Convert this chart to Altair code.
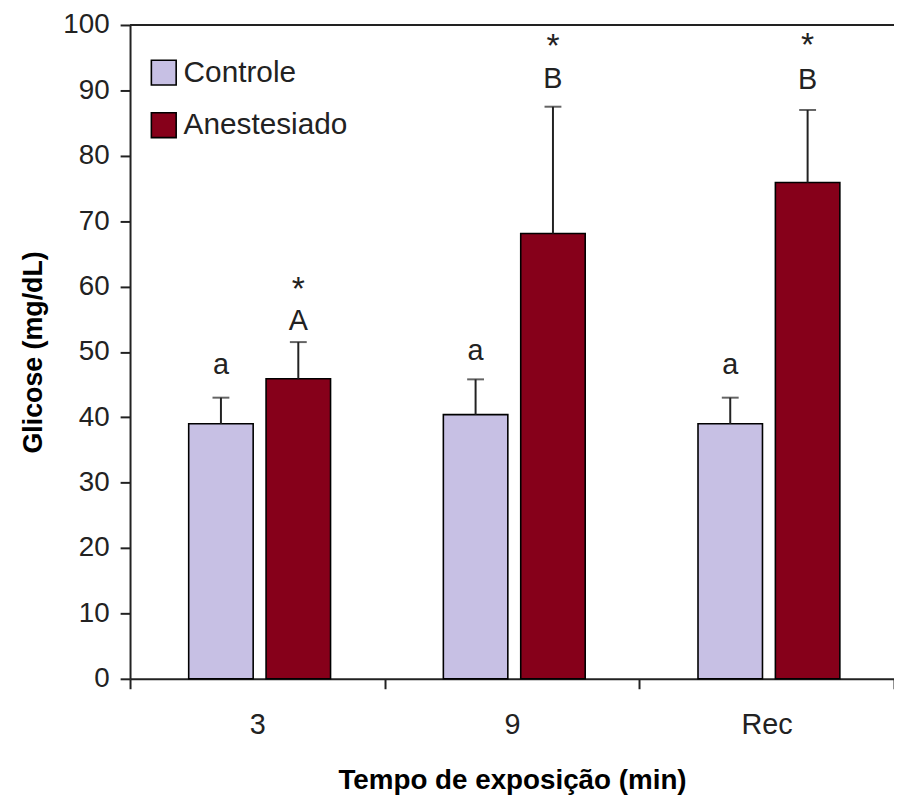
import altair as alt
import pandas as pd

times = ["3", "9", "Rec"]
groups = ["Controle", "Anestesiado"]
colors = ["#C7C0E4", "#86001A"]

controle_mean = [39.0, 40.4, 39.0]
controle_upper = [43.0, 45.8, 43.0]
anest_mean = [45.9, 68.1, 75.9]
anest_upper = [51.5, 87.5, 87.0]

controle_letters = ["a", "a", "a"]
controle_letter_y = [46.6, 48.7, 46.6]
anest_letters = ["A", "B", "B"]
anest_letter_y = [53.4, 90.3, 90.2]
anest_star = ["*", "*", "*"]
anest_star_y = [58.0, 95.1, 95.3]

rows = []
for i, t in enumerate(times):
    rows.append(dict(time=t, group="Controle", mean=controle_mean[i], upper=controle_upper[i],
                     letter=controle_letters[i], letter_y=controle_letter_y[i], star="", star_y=None))
    rows.append(dict(time=t, group="Anestesiado", mean=anest_mean[i], upper=anest_upper[i],
                     letter=anest_letters[i], letter_y=anest_letter_y[i], star=anest_star[i], star_y=anest_star_y[i]))
df = pd.DataFrame(rows)

FONT = "Liberation Sans"
DARK = "#222222"
XTITLE = "Tempo de exposição (min)"
YTITLE = "Glicose (mg/dL)"

xscale = alt.Scale(paddingInner=0, paddingOuter=0)
oscale = alt.Scale(domain=groups, paddingInner=0.1667, paddingOuter=0.729, align=0.52)
yscale = alt.Scale(domain=[0, 100], nice=False, zero=True)

x_axis = alt.Axis(labelAngle=0, tickBand="extent", tickSize=10, tickWidth=2, tickColor=DARK,
                  domainColor=DARK, domainWidth=2, labelFont=FONT, labelFontSize=29,
                  labelColor=DARK, labelPadding=22, titleFont=FONT, titleFontSize=28,
                  titleFontWeight="bold", titleColor="black", titlePadding=28)
y_axis = alt.Axis(values=list(range(0, 101, 10)), tickSize=10, tickWidth=2, tickColor=DARK,
                  domainColor=DARK, domainWidth=2, grid=False, labelFont=FONT, labelFontSize=28,
                  labelColor=DARK, labelPadding=11, titleFont=FONT, titleFontSize=27,
                  titleFontWeight="bold", titleColor="black", titlePadding=16)

base = alt.Chart(df)

xenc = alt.X("time:N", sort=times, scale=xscale, axis=x_axis, title=XTITLE)
xo = alt.XOffset("group:N", sort=groups, scale=oscale)

def yenc(field):
    return alt.Y(field, scale=yscale, axis=y_axis, title=YTITLE)

bars = base.mark_bar(stroke="black", strokeWidth=1.6).encode(
    x=xenc,
    xOffset=xo,
    y=yenc("mean:Q"),
    color=alt.Color("group:N", sort=groups,
                    scale=alt.Scale(domain=groups, range=colors),
                    legend=alt.Legend(title=None, orient="none", legendX=19, legendY=33,
                                      symbolType="square", symbolSize=625,
                                      symbolStrokeColor="black", symbolStrokeWidth=1.6,
                                      symbolOpacity=1, labelLimit=400,
                                      labelFont=FONT, labelFontSize=30, labelColor=DARK,
                                      labelOffset=5, rowPadding=21, padding=0)),
)

err = base.mark_rule(color=DARK, strokeWidth=2).encode(
    x=xenc, xOffset=xo,
    y=yenc("mean:Q"),
    y2="upper:Q",
)

caps = base.mark_tick(color=DARK, size=17, thickness=2).encode(
    x=xenc, xOffset=xo,
    y=yenc("upper:Q"),
)

letters = base.mark_text(font=FONT, fontSize=29, color=DARK, baseline="alphabetic").encode(
    x=xenc, xOffset=xo,
    y=yenc("letter_y:Q"),
    text="letter:N",
)

stars = base.transform_filter("datum.star != ''").mark_text(
    font=FONT, fontSize=34, color=DARK, baseline="alphabetic").encode(
    x=xenc, xOffset=xo,
    y=yenc("star_y:Q"),
    text="star:N",
)

top_line = alt.Chart(pd.DataFrame({"v": [100]})).mark_rule(color=DARK, strokeWidth=2).encode(
    y=yenc("v:Q"),
)

chart = alt.layer(bars, err, caps, letters, stars, top_line).properties(
    width=770, height=659,
    autosize=alt.AutoSizeParams(type="none"),
    padding={"left": 123, "top": 14, "right": 0, "bottom": 115},
).configure_view(stroke=None)

chart.save("out.html", embed_options={"renderer": "svg", "actions": False})
